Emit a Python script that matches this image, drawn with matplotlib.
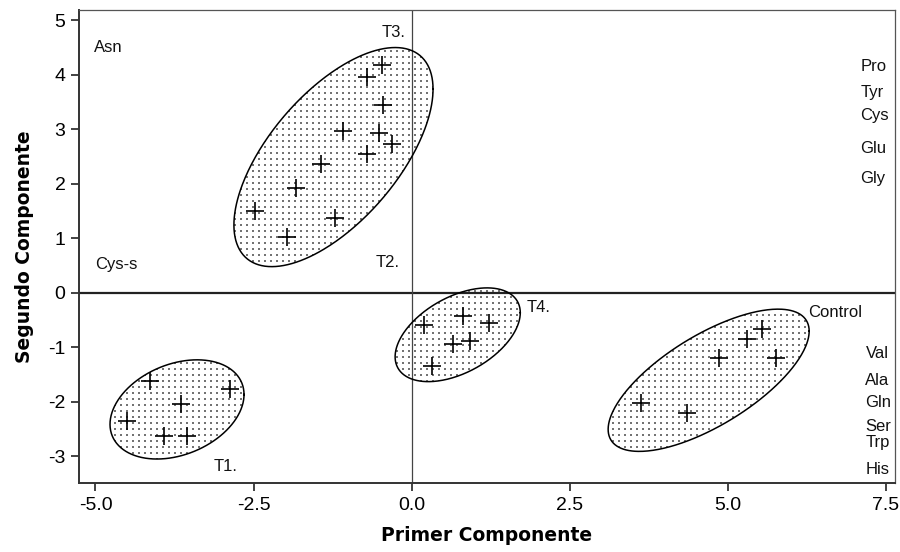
import numpy as np
import matplotlib
matplotlib.use("Agg")
import matplotlib.pyplot as plt
from matplotlib.patches import Polygon

# ---- data ----
t1_x = [-4.13, -2.87, -3.64, -4.50, -3.92, -3.55]
t1_y = [-1.61, -1.77, -2.04, -2.36, -2.62, -2.62]

t3_x = [-0.47, -0.71, -0.45, -1.08, -0.51, -0.31, -0.71, -1.43, -1.83, -2.48, -1.21, -1.97]
t3_y = [4.18, 3.96, 3.45, 2.96, 2.93, 2.73, 2.55, 2.37, 1.93, 1.50, 1.38, 1.02]

t4_x = [0.19, 0.81, 1.22, 0.65, 0.93, 0.32]
t4_y = [-0.60, -0.42, -0.56, -0.94, -0.89, -1.34]

ctrl_x = [5.54, 5.30, 4.87, 5.77, 3.63, 4.35]
ctrl_y = [-0.67, -0.85, -1.20, -1.20, -2.02, -2.20]

# ellipses: center x, center y, half-extent x, half-extent y, correlation
ell_t1 = (-3.71, -2.14, 1.06, 0.91, 0.30)
ell_t3 = (-1.235, 2.49, 1.575, 2.01, 0.62)
ell_t4 = (0.73, -0.77, 0.99, 0.86, 0.47)
ell_ctrl = (4.70, -1.605, 1.59, 1.305, 0.69)

group_labels = ["T1.", "T2.", "T3.", "T4.", "Control"]
group_label_x = [-2.94, -0.38, -0.29, 1.82, 6.28]
group_label_y = [-3.19, 0.55, 4.78, -0.275, -0.37]
group_label_ha = ["center", "center", "center", "left", "left"]

left_labels = ["Asn", "Cys-s"]
left_label_x = [-5.02, -5.01]
left_label_y = [4.50, 0.51]

right_top_labels = ["Pro", "Tyr", "Cys", "Glu", "Gly"]
right_top_y = [4.15, 3.68, 3.25, 2.65, 2.09]
right_top_x = 7.10
right_bot_labels = ["Val", "Ala", "Gln", "Ser", "Trp", "His"]
right_bot_y = [-1.12, -1.61, -2.02, -2.46, -2.75, -3.25]
right_bot_x = 7.18

xticks = [-5.0, -2.5, 0.0, 2.5, 5.0, 7.5]
yticks = [-3, -2, -1, 0, 1, 2, 3, 4, 5]

# ---- plotting ----
fig = plt.figure(figsize=(9, 5.52), dpi=100)
ax = fig.add_axes([0.0881, 0.125, 0.9058, 0.857])

ax.set_xlim(-5.256, 7.64)
ax.set_ylim(-3.49, 5.19)

# dotted texture grid (axes fraction, ~6 px spacing)
ax_w_px, ax_h_px = 0.9058 * 900, 0.857 * 552
gx, gy = np.meshgrid(np.arange(0, 1, 6.0 / ax_w_px), np.arange(0, 1, 6.0 / ax_h_px))

tt = np.linspace(0, 2 * np.pi, 400)
for (cx, cy, hx, hy, r) in [ell_t1, ell_t3, ell_t4, ell_ctrl]:
    d = np.arccos(r)
    ex = cx + hx * np.cos(tt)
    ey = cy + hy * np.cos(tt - d)
    poly = Polygon(np.column_stack([ex, ey]), closed=True, facecolor='none',
                   edgecolor='none', transform=ax.transData)
    ax.add_patch(poly)
    sc = ax.scatter(gx.ravel(), gy.ravel(), s=0.8, marker='s', c='0.45',
                    linewidths=0, transform=ax.transAxes, zorder=1)
    sc.set_clip_path(poly)
    ax.plot(ex, ey, color='black', lw=1.1, zorder=2)

ax.axhline(0, color='#222222', lw=1.6, zorder=1.5)
ax.axvline(0, color='#444444', lw=0.9, zorder=1.5)

for xs, ys in [(t1_x, t1_y), (t3_x, t3_y), (t4_x, t4_y), (ctrl_x, ctrl_y)]:
    ax.plot(xs, ys, linestyle='none', marker='+', ms=13, mew=1.2, color='black', zorder=3)

lab_font = dict(family=['Liberation Sans', 'DejaVu Sans'], fontsize=12, color='#111111')
for s, x, y, ha in zip(group_labels, group_label_x, group_label_y, group_label_ha):
    ax.text(x, y, s, ha=ha, va='center', **lab_font)
for s, x, y in zip(left_labels, left_label_x, left_label_y):
    ax.text(x, y, s, ha='left', va='center', **lab_font)
for s, y in zip(right_top_labels, right_top_y):
    ax.text(right_top_x, y, s, ha='left', va='center', **lab_font)
for s, y in zip(right_bot_labels, right_bot_y):
    ax.text(right_bot_x, y, s, ha='left', va='center', **lab_font)

ax.set_xticks(xticks)
ax.set_xticklabels([f"{v:.1f}" for v in xticks])
ax.set_yticks(yticks)
ax.set_yticklabels([str(v) for v in yticks])
for lbl in ax.get_xticklabels() + ax.get_yticklabels():
    lbl.set_fontfamily(['Liberation Sans', 'DejaVu Sans'])
    lbl.set_fontsize(14)
ax.tick_params(direction='out', length=6, width=1.2, color='#222222', pad=4)

for side in ['left', 'bottom']:
    ax.spines[side].set_color('#333333')
    ax.spines[side].set_linewidth(1.4)
for side in ['top', 'right']:
    ax.spines[side].set_color('#555555')
    ax.spines[side].set_linewidth(0.9)

ax.set_xlabel("Primer Componente", fontsize=13.5, fontweight='bold', family='DejaVu Sans', labelpad=9)
ax.set_ylabel("Segundo Componente", fontsize=13.5, fontweight='bold', family='DejaVu Sans', labelpad=10)

fig.savefig("out.png", dpi=100)
